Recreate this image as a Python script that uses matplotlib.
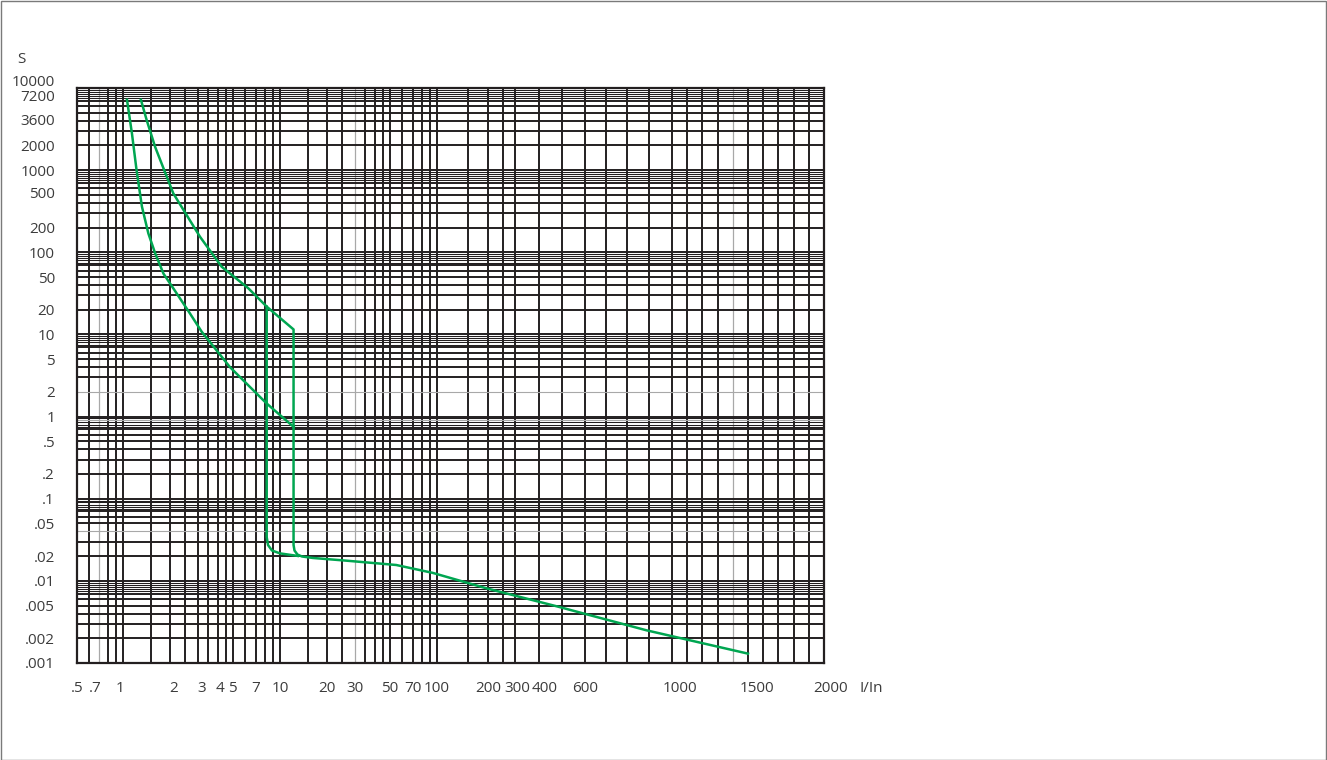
import numpy as np
import matplotlib
matplotlib.use('Agg')
import matplotlib.pyplot as plt
import matplotlib.transforms as mtransforms
from matplotlib.patches import Rectangle

plt.rcParams['font.family'] = ['Open Sans', 'DejaVu Sans']

# tick values and labels
x_ticks = [0.5, 0.7, 1, 2, 3, 4, 5, 7, 10, 20, 30, 50, 70, 100, 200, 300, 400, 600, 1000, 1500, 2000]
x_labels = ['.5', '.7', '1', '2', '3', '4', '5', '7', '10', '20', '30', '50', '70', '100',
            '200', '300', '400', '600', '1000', '1500', '2000']
y_ticks = [10000, 7200, 3600, 2000, 1000, 500, 200, 100, 50, 20, 10, 5, 2, 1,
           0.5, 0.2, 0.1, 0.05, 0.02, 0.01, 0.005, 0.002, 0.001]
y_labels = ['10000', '7200', '3600', '2000', '1000', '500', '200', '100', '50', '20', '10',
            '5', '2', '1', '.5', '.2', '.1', '.05', '.02', '.01', '.005', '.002', '.001']

# left curve (min thermal)
lo_i = [1.06, 1.14, 1.22, 1.32, 1.45, 1.60, 1.81, 2.08, 2.67, 3.17, 4.8, 8.2, 12.2]
lo_t = [7200, 2800, 1000, 360, 170, 98, 55, 37, 18, 10.8, 4.0, 1.45, 0.75]

# right curve (max thermal + magnetic + tail)
hi_i = [1.30, 1.415, 1.60, 2.09, 3.09, 4.25, 6.28, 8.23, 12.2, 12.2, 12.37, 12.92, 13.8,
        16.2, 26.6, 55, 94, 196, 475, 888, 1500]
hi_t = [7200, 4070, 1930, 522, 155, 66.7, 36.5, 21.8, 11.5, 0.0273, 0.0234, 0.0209, 0.0198,
        0.019, 0.0176, 0.0156, 0.0125, 0.0081, 0.0049, 0.0025, 0.0013]

# min magnetic branch
mag_i = [8.23, 8.23, 8.39, 8.89, 10.0, 13.0]
mag_t = [21.8, 0.034, 0.0273, 0.0234, 0.0216, 0.0201]

# the printed paper: I/In value -> pixel column
X_ANCHOR_VAL = [0.5, 1, 10, 100, 150, 200, 250, 300, 400, 500, 600, 700, 800, 900, 1000,
                1100, 1200, 1300, 1400, 1500, 1600, 1700, 1800, 1900, 2000]
X_ANCHOR_PX = [77, 123, 280, 437, 468, 488, 503, 515, 539, 562, 585, 606, 627, 649, 672,
               687, 702, 718, 733, 748, 763, 778, 794, 809, 824]
xa_log = np.log10(X_ANCHOR_VAL)
xa_px = np.array(X_ANCHOR_PX, float)


def x_fwd(v):
    v = np.asarray(v, float)
    return np.interp(np.log10(np.clip(v, 1e-6, None)), xa_log, xa_px)


def x_inv(p):
    return 10 ** np.interp(np.asarray(p, float), xa_px, xa_log)


def split(values, gray):
    black = [v for v in values if not np.any(np.isclose(v, gray))]
    return black, gray


# grid lines of the paper
x_mults = [1, 1.5, 2, 2.5, 3, 3.5, 4, 4.5, 5, 6, 7, 8, 9]
grid_x = [0.6, 0.7, 0.8, 0.9] + [m * d for d in [1, 10] for m in x_mults]
grid_x += [v for v in X_ANCHOR_VAL if v >= 100]
grid_x, grid_x_gray = split(grid_x, [0.7, 30, 1400])

decades = [0.001, 0.01, 0.1, 1, 10, 100, 1000]
grid_y = [m * d for d in decades for m in [1, 2, 3, 4, 5, 6, 7]] + [10000]
grid_y, grid_y_gray = split(grid_y, [2, 0.04])
grid_y_fine = [m * d for d in decades for m in [7.5, 8, 8.5, 9, 9.5]]
grid_y_fine, gray_fine = split(grid_y_fine, [0.9])
grid_y_gray += gray_fine

W, H = 1327, 760
fig = plt.figure(figsize=(W / 100, H / 100), dpi=100)
ax = fig.add_axes([77 / W, 1 - 663 / H, (824 - 77) / W, (663 - 88) / H])
ax.set_xscale('function', functions=(x_fwd, x_inv))
ax.set_yscale('log')

line_col = '#231f20'
gray_col = '#a8a8a8'
xt = ax.get_xaxis_transform()
yt = ax.get_yaxis_transform()
ax.vlines(grid_x, 0, 1, transform=xt, colors=line_col, lw=1.4, zorder=1, snap=True)
ax.vlines(grid_x_gray, 0, 1, transform=xt, colors=gray_col, lw=0.9, zorder=1, snap=True)
ax.hlines(grid_y, 0, 1, transform=yt, colors=line_col, lw=1.4, zorder=1, snap=True)
ax.hlines(grid_y_fine, 0, 1, transform=yt, colors=line_col, lw=0.75, zorder=1, snap=True)
ax.hlines(grid_y_gray, 0, 1, transform=yt, colors=gray_col, lw=0.8, zorder=1, snap=True)

green = '#00a651'
for xs, ys in [(lo_i, lo_t), (hi_i, hi_t), (mag_i, mag_t)]:
    ax.plot(xs, ys, color=green, lw=1.8, solid_joinstyle='round', zorder=3)

ax.set_xlim(0.5, 2000)
ax.set_ylim(0.001, 10000)
ax.set_xticks([])
ax.set_yticks([])
ax.minorticks_off()
for s in ax.spines.values():
    s.set_linewidth(1.6)
    s.set_color(line_col)

txt_col = '#3c3c3c'
x_shift = {0.7: -4, 1: -3, 2: 3, 3: 4, 4: 2, 300: 2, 400: 6, 1000: 8, 1500: 9, 2000: 7}
for v, lab in zip(x_ticks, x_labels):
    tr = xt + mtransforms.ScaledTranslation(x_shift.get(v, 0) / 100, -29 / 100, fig.dpi_scale_trans)
    ax.text(v, 0, lab, transform=tr, ha='center', va='baseline', fontsize=11, color=txt_col)

y_shift = {10000: 7.5, 7200: 4, 3600: 5, 500: 2}
for v, lab in zip(y_ticks, y_labels):
    tr = yt + mtransforms.ScaledTranslation(-22 / 100, (y_shift.get(v, 0) - 5.5) / 100, fig.dpi_scale_trans)
    ax.text(0, v, lab, transform=tr, ha='right', va='baseline', fontsize=11, color=txt_col)

fig.text(17 / W, 1 - 63 / H, 'S', ha='left', va='baseline', fontsize=11, color=txt_col)
fig.text(860 / W, 1 - 692 / H, 'I/In', ha='left', va='baseline', fontsize=11, color=txt_col)

fig.patches.append(Rectangle((0.5 / W, 0.5 / H), 1 - 1.5 / W, 1 - 1.5 / H, transform=fig.transFigure,
                             fill=False, edgecolor='#7a7a7a', lw=1.0))

fig.savefig('out.png', dpi=100)
